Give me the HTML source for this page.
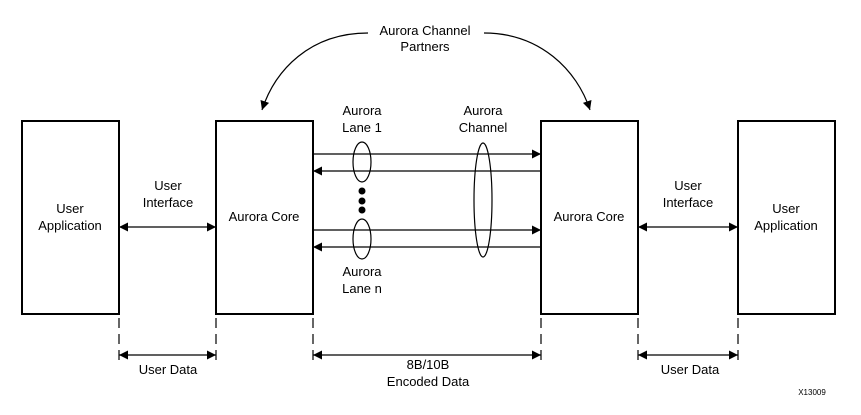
<!DOCTYPE html>
<html><head><meta charset="utf-8"><style>
html,body{margin:0;padding:0;background:#fff;}
svg{display:block;font-family:"Liberation Sans",Arial,sans-serif;}
</style></head><body>
<svg width="861" height="415" viewBox="0 0 861 415" xmlns="http://www.w3.org/2000/svg">
<defs>
<marker id="a" viewBox="0 0 10 10" refX="10" refY="5" markerWidth="13" markerHeight="9" markerUnits="userSpaceOnUse" orient="auto-start-reverse"><path d="M0,0L10,5L0,10z" fill="#000"/></marker>
</defs>
<g fill="none" stroke="#000" stroke-width="2">
<rect x="22" y="121" width="97" height="193"/>
<rect x="216" y="121" width="97" height="193"/>
<rect x="541" y="121" width="97" height="193"/>
<rect x="738" y="121" width="97" height="193"/>
</g>
<g stroke="#000" stroke-width="1.2" fill="none">
<line x1="313" y1="154" x2="541" y2="154" marker-end="url(#a)"/>
<line x1="541" y1="171" x2="313" y2="171" marker-end="url(#a)"/>
<line x1="313" y1="230" x2="541" y2="230" marker-end="url(#a)"/>
<line x1="541" y1="247" x2="313" y2="247" marker-end="url(#a)"/>
<line x1="119" y1="227" x2="216" y2="227" marker-start="url(#a)" marker-end="url(#a)"/>
<line x1="638" y1="227" x2="738" y2="227" marker-start="url(#a)" marker-end="url(#a)"/>
<ellipse cx="362" cy="162" rx="9" ry="20"/>
<ellipse cx="362" cy="239" rx="9" ry="20"/>
<ellipse cx="483" cy="200" rx="9" ry="57"/>
<path d="M368,33 C310,33 275,70 262,110" marker-end="url(#a)"/>
<path d="M484,33 C540,33 577,70 590,110" marker-end="url(#a)"/>
<g stroke-dasharray="10,6">
<line x1="119" y1="318" x2="119" y2="362"/>
<line x1="216" y1="318" x2="216" y2="362"/>
<line x1="313" y1="318" x2="313" y2="362"/>
<line x1="541" y1="318" x2="541" y2="362"/>
<line x1="638" y1="318" x2="638" y2="362"/>
<line x1="738" y1="318" x2="738" y2="362"/>
</g>
<line x1="119" y1="355" x2="216" y2="355" marker-start="url(#a)" marker-end="url(#a)"/>
<line x1="313" y1="355" x2="541" y2="355" marker-start="url(#a)" marker-end="url(#a)"/>
<line x1="638" y1="355" x2="738" y2="355" marker-start="url(#a)" marker-end="url(#a)"/>
</g>
<g fill="#000">
<circle cx="362" cy="191" r="3.5"/><circle cx="362" cy="201" r="3.5"/><circle cx="362" cy="210" r="3.5"/>
</g>
<g font-size="13" text-anchor="middle" fill="#000">
<text x="425" y="35">Aurora Channel</text>
<text x="425" y="51">Partners</text>
<text x="70" y="213">User</text>
<text x="70" y="230">Application</text>
<text x="786" y="213">User</text>
<text x="786" y="230">Application</text>
<text x="264" y="221">Aurora Core</text>
<text x="589" y="221">Aurora Core</text>
<text x="168" y="190">User</text>
<text x="168" y="207">Interface</text>
<text x="688" y="190">User</text>
<text x="688" y="207">Interface</text>
<text x="362" y="115">Aurora</text>
<text x="362" y="132">Lane 1</text>
<text x="483" y="115">Aurora</text>
<text x="483" y="132">Channel</text>
<text x="362" y="276">Aurora</text>
<text x="362" y="293">Lane n</text>
<text x="168" y="374">User Data</text>
<text x="690" y="374">User Data</text>
<text x="428" y="369">8B/10B</text>
<text x="428" y="386">Encoded Data</text>
<text x="812" y="395" font-size="8">X13009</text>
</g>
</svg>
</body></html>
